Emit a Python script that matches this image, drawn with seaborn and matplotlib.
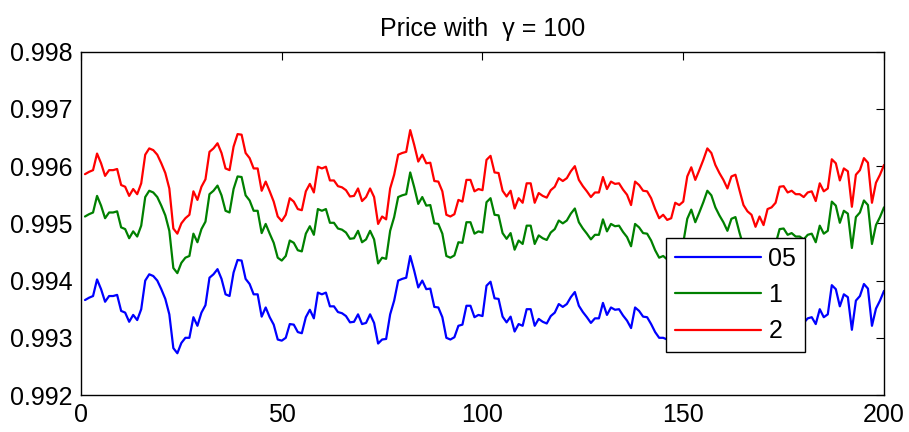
import matplotlib

matplotlib.use("Agg")

import matplotlib.pyplot as plt
import numpy as np
import pandas as pd
import seaborn as sns

# values, one per step (steps 1..200)
price_05 = [
    0.99366, 0.99370, 0.99373, 0.99402, 0.99385, 0.99363, 0.99373, 0.99373, 0.99375, 0.99347,
    0.99344, 0.99328, 0.99340, 0.99331, 0.99350, 0.99400, 0.99411, 0.99408, 0.99400, 0.99385,
    0.99368, 0.99341, 0.99282, 0.99273, 0.99291, 0.99300, 0.99300, 0.99336, 0.99321, 0.99344,
    0.99357, 0.99405, 0.99411, 0.99420, 0.99403, 0.99376, 0.99373, 0.99414, 0.99436, 0.99435,
    0.99403, 0.99394, 0.99376, 0.99376, 0.99337, 0.99353, 0.99336, 0.99323, 0.99297, 0.99295,
    0.99300, 0.99324, 0.99323, 0.99310, 0.99308, 0.99336, 0.99349, 0.99334, 0.99379, 0.99376,
    0.99379, 0.99355, 0.99355, 0.99345, 0.99343, 0.99338, 0.99327, 0.99328, 0.99341, 0.99324,
    0.99326, 0.99341, 0.99326, 0.99290, 0.99297, 0.99298, 0.99341, 0.99365, 0.99400, 0.99403,
    0.99405, 0.99443, 0.99417, 0.99388, 0.99400, 0.99385, 0.99386, 0.99354, 0.99353, 0.99336,
    0.99300, 0.99297, 0.99301, 0.99321, 0.99323, 0.99356, 0.99356, 0.99336, 0.99340, 0.99338,
    0.99391, 0.99398, 0.99369, 0.99368, 0.99337, 0.99327, 0.99337, 0.99311, 0.99324, 0.99321,
    0.99350, 0.99350, 0.99321, 0.99333, 0.99328, 0.99325, 0.99338, 0.99344, 0.99359, 0.99354,
    0.99359, 0.99371, 0.99380, 0.99356, 0.99345, 0.99336, 0.99326, 0.99334, 0.99334, 0.99361,
    0.99340, 0.99353, 0.99349, 0.99350, 0.99339, 0.99330, 0.99317, 0.99353, 0.99347, 0.99337,
    0.99336, 0.99324, 0.99310, 0.99300, 0.99300, 0.99297, 0.99300, 0.99321, 0.99317, 0.99323,
    0.99362, 0.99378, 0.99356, 0.99373, 0.99391, 0.99411, 0.99403, 0.99382, 0.99368, 0.99356,
    0.99341, 0.99362, 0.99365, 0.99338, 0.99317, 0.99306, 0.99300, 0.99285, 0.99297, 0.99288,
    0.99310, 0.99313, 0.99321, 0.99344, 0.99345, 0.99334, 0.99337, 0.99331, 0.99331, 0.99326,
    0.99334, 0.99336, 0.99324, 0.99350, 0.99336, 0.99341, 0.99392, 0.99385, 0.99355, 0.99376,
    0.99371, 0.99314, 0.99365, 0.99373, 0.99394, 0.99386, 0.99321, 0.99351, 0.99365, 0.99382,
]
price_1 = [
    0.99512, 0.99516, 0.99519, 0.99548, 0.99531, 0.99509, 0.99519, 0.99519, 0.99521, 0.99493,
    0.99490, 0.99474, 0.99486, 0.99477, 0.99496, 0.99546, 0.99557, 0.99554, 0.99546, 0.99531,
    0.99514, 0.99487, 0.99422, 0.99413, 0.99431, 0.99440, 0.99443, 0.99482, 0.99467, 0.99490,
    0.99503, 0.99551, 0.99557, 0.99566, 0.99549, 0.99522, 0.99519, 0.99560, 0.99582, 0.99581,
    0.99549, 0.99540, 0.99522, 0.99522, 0.99483, 0.99499, 0.99482, 0.99466, 0.99440, 0.99435,
    0.99443, 0.99470, 0.99466, 0.99453, 0.99451, 0.99482, 0.99495, 0.99480, 0.99525, 0.99522,
    0.99525, 0.99501, 0.99501, 0.99491, 0.99489, 0.99484, 0.99473, 0.99474, 0.99487, 0.99467,
    0.99472, 0.99487, 0.99472, 0.99430, 0.99440, 0.99438, 0.99487, 0.99511, 0.99546, 0.99549,
    0.99551, 0.99589, 0.99563, 0.99534, 0.99546, 0.99531, 0.99532, 0.99500, 0.99499, 0.99482,
    0.99443, 0.99440, 0.99444, 0.99467, 0.99466, 0.99502, 0.99502, 0.99482, 0.99486, 0.99484,
    0.99537, 0.99544, 0.99515, 0.99514, 0.99483, 0.99473, 0.99483, 0.99454, 0.99470, 0.99464,
    0.99496, 0.99496, 0.99464, 0.99479, 0.99474, 0.99471, 0.99484, 0.99490, 0.99505, 0.99500,
    0.99505, 0.99517, 0.99526, 0.99502, 0.99491, 0.99482, 0.99472, 0.99480, 0.99480, 0.99507,
    0.99486, 0.99499, 0.99495, 0.99496, 0.99485, 0.99476, 0.99460, 0.99499, 0.99493, 0.99483,
    0.99482, 0.99470, 0.99453, 0.99440, 0.99443, 0.99437, 0.99440, 0.99464, 0.99460, 0.99466,
    0.99508, 0.99524, 0.99502, 0.99519, 0.99537, 0.99557, 0.99549, 0.99528, 0.99514, 0.99502,
    0.99487, 0.99508, 0.99511, 0.99484, 0.99460, 0.99449, 0.99443, 0.99425, 0.99440, 0.99428,
    0.99453, 0.99456, 0.99464, 0.99490, 0.99491, 0.99480, 0.99483, 0.99477, 0.99477, 0.99472,
    0.99480, 0.99482, 0.99467, 0.99496, 0.99482, 0.99487, 0.99538, 0.99531, 0.99501, 0.99522,
    0.99517, 0.99457, 0.99511, 0.99519, 0.99540, 0.99532, 0.99464, 0.99497, 0.99511, 0.99528,
]
price_2 = [
    0.99586, 0.99590, 0.99593, 0.99622, 0.99605, 0.99583, 0.99593, 0.99593, 0.99595, 0.99567,
    0.99564, 0.99548, 0.99560, 0.99551, 0.99570, 0.99620, 0.99631, 0.99628, 0.99620, 0.99605,
    0.99588, 0.99561, 0.99491, 0.99482, 0.99500, 0.99509, 0.99515, 0.99556, 0.99541, 0.99564,
    0.99577, 0.99625, 0.99631, 0.99640, 0.99623, 0.99596, 0.99593, 0.99634, 0.99656, 0.99655,
    0.99623, 0.99614, 0.99596, 0.99596, 0.99557, 0.99573, 0.99556, 0.99538, 0.99512, 0.99504,
    0.99515, 0.99544, 0.99538, 0.99525, 0.99523, 0.99556, 0.99569, 0.99554, 0.99599, 0.99596,
    0.99599, 0.99575, 0.99575, 0.99565, 0.99563, 0.99558, 0.99547, 0.99548, 0.99561, 0.99539,
    0.99546, 0.99561, 0.99546, 0.99499, 0.99512, 0.99507, 0.99561, 0.99585, 0.99620, 0.99623,
    0.99625, 0.99663, 0.99637, 0.99608, 0.99620, 0.99605, 0.99606, 0.99574, 0.99573, 0.99556,
    0.99515, 0.99512, 0.99516, 0.99541, 0.99538, 0.99576, 0.99576, 0.99556, 0.99560, 0.99558,
    0.99611, 0.99618, 0.99589, 0.99588, 0.99557, 0.99547, 0.99557, 0.99526, 0.99544, 0.99536,
    0.99570, 0.99570, 0.99536, 0.99553, 0.99548, 0.99545, 0.99558, 0.99564, 0.99579, 0.99574,
    0.99579, 0.99591, 0.99600, 0.99576, 0.99565, 0.99556, 0.99546, 0.99554, 0.99554, 0.99581,
    0.99560, 0.99573, 0.99569, 0.99570, 0.99559, 0.99550, 0.99532, 0.99573, 0.99567, 0.99557,
    0.99556, 0.99544, 0.99525, 0.99509, 0.99515, 0.99506, 0.99509, 0.99536, 0.99532, 0.99538,
    0.99582, 0.99598, 0.99576, 0.99593, 0.99611, 0.99631, 0.99623, 0.99602, 0.99588, 0.99576,
    0.99561, 0.99582, 0.99585, 0.99558, 0.99532, 0.99521, 0.99515, 0.99494, 0.99512, 0.99497,
    0.99525, 0.99528, 0.99536, 0.99564, 0.99565, 0.99554, 0.99557, 0.99551, 0.99551, 0.99546,
    0.99554, 0.99556, 0.99539, 0.99570, 0.99556, 0.99561, 0.99612, 0.99605, 0.99575, 0.99596,
    0.99591, 0.99529, 0.99585, 0.99593, 0.99614, 0.99606, 0.99536, 0.99571, 0.99585, 0.99602,
]
SERIES_LABELS = ["05", "1", "2"]
SERIES_COLORS = ["#0000ff", "#008000", "#ff0000"]
X_TICKS = [0, 50, 100, 150, 200]
Y_TICKS = [0.992, 0.993, 0.994, 0.995, 0.996, 0.997, 0.998]


def build_frame() -> pd.DataFrame:
    steps = np.arange(1, len(price_2) + 1)
    frames = []
    for label, values in zip(SERIES_LABELS, [price_05, price_1, price_2]):
        frames.append(pd.DataFrame({"step": steps, "price": values, "series": label}))
    return pd.concat(frames, ignore_index=True)


def main() -> None:
    sns.set_style("white")
    plt.rcParams["font.family"] = ["Liberation Sans", "DejaVu Sans"]
    plt.rcParams["text.color"] = "black"

    df = build_frame()
    fig = plt.figure(figsize=(9.09, 4.32), dpi=100)
    ax = fig.add_axes([0.0891, 0.0856, 0.8834, 0.7947])

    sns.lineplot(
        data=df,
        x="step",
        y="price",
        hue="series",
        hue_order=SERIES_LABELS,
        palette=SERIES_COLORS,
        linewidth=1.6,
        ax=ax,
    )

    ax.set_xlim(0, 200)
    ax.set_ylim(0.992, 0.998)
    ax.set_xticks(X_TICKS)
    ax.set_yticks(Y_TICKS)
    ax.set_yticklabels([f"{t:.3f}" for t in Y_TICKS])
    ax.set_xlabel("")
    ax.set_ylabel("")
    ax.tick_params(direction="in", length=6, width=0.8, labelsize=18,
                   top=True, right=True, colors="black", pad=6)
    for spine in ax.spines.values():
        spine.set_color("black")
        spine.set_linewidth(1.0)

    ax.set_title("Price with  \u03b3 = 100", fontsize=18, pad=11, color="black")

    legend = ax.legend(
        loc="lower right",
        bbox_to_anchor=(0.9016, 0.1253),
        borderaxespad=0,
        fontsize=18,
        handlelength=3.45,
        labelspacing=0.49,
        handletextpad=0.3,
        borderpad=0.35,
        fancybox=False,
        framealpha=1,
        edgecolor="black",
    )
    legend.get_frame().set_linewidth(1.0)

    fig.savefig("out.png", dpi=100)
    plt.close(fig)


if __name__ == "__main__":
    main()
